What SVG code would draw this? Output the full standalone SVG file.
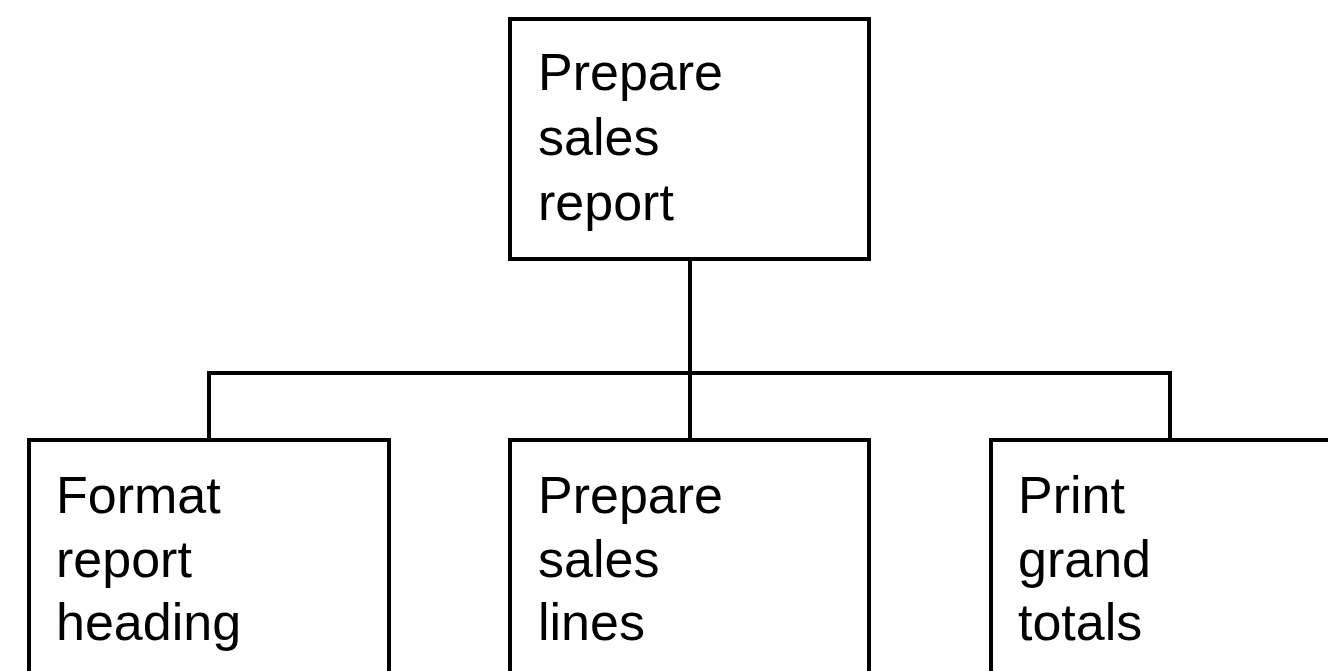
<svg xmlns="http://www.w3.org/2000/svg" width="1328" height="671" viewBox="0 0 1328 671">
<style>
.box{fill:#fff;stroke:#000;stroke-width:4}
.lbl{font-family:"Liberation Sans",Arial,sans-serif;font-size:52px;fill:#000}
.con{fill:none;stroke:#000;stroke-width:4}
</style>
<rect width="1328" height="671" fill="#fff"/>
<g id="connectors">
<path class="con" d="M690 259 V440"/>
<path class="con" d="M209 440 V373 H1170 V440"/>
</g>
<g id="n-top">
<rect class="box" x="510" y="19" width="359" height="240"/>
<text class="lbl" x="538" y="90">Prepare</text>
<text class="lbl" x="538" y="155">sales</text>
<text class="lbl" x="538" y="220">report</text>
</g>
<g id="n-format">
<rect class="box" x="29" y="440" width="360" height="260"/>
<text class="lbl" x="56" y="513">Format</text>
<text class="lbl" x="56" y="577">report</text>
<text class="lbl" x="56" y="640">heading</text>
</g>
<g id="n-lines">
<rect class="box" x="510" y="440" width="359" height="260"/>
<text class="lbl" x="538" y="513">Prepare</text>
<text class="lbl" x="538" y="577">sales</text>
<text class="lbl" x="538" y="640">lines</text>
</g>
<g id="n-totals">
<rect class="box" x="991" y="440" width="360" height="260"/>
<text class="lbl" x="1018" y="513">Print</text>
<text class="lbl" x="1018" y="577">grand</text>
<text class="lbl" x="1018" y="640">totals</text>
</g>
</svg>
